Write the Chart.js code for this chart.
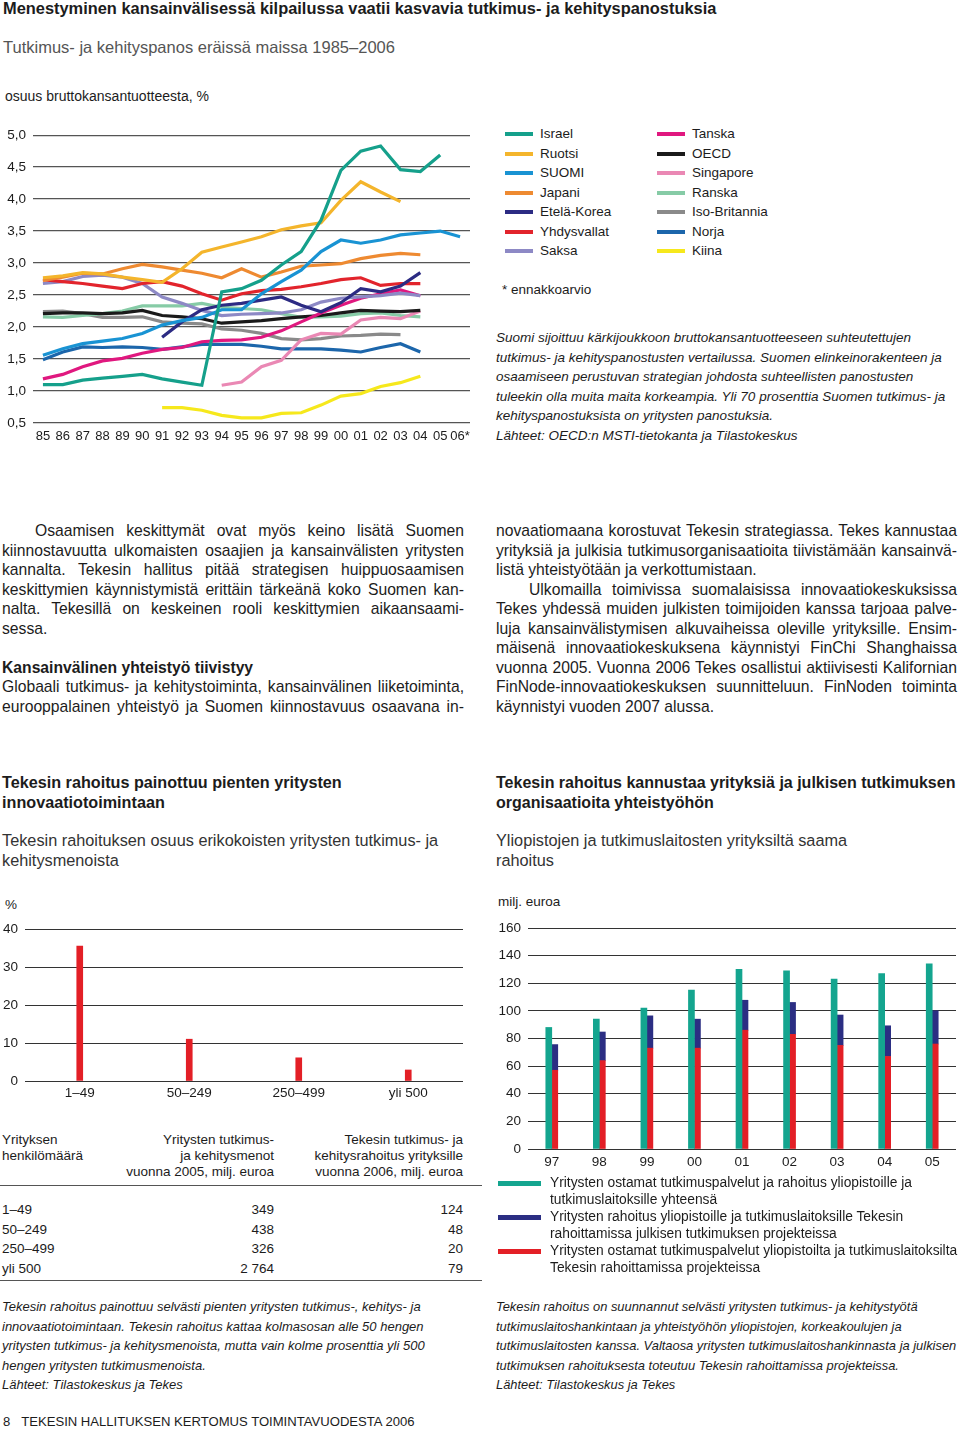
<!DOCTYPE html>
<html>
<head>
<meta charset="utf-8">
<script src="https://cdn.jsdelivr.net/npm/chart.js@4.4.1/dist/chart.umd.min.js"></script>
<style>
  body { margin: 0; width: 960px; height: 1429px; position: relative; background: #fff;
         font-family: "Liberation Sans", Arial, sans-serif; color: #1c1c1c; overflow: hidden; }
  .a { position: absolute; white-space: nowrap; }
  .sm { font-size: 13.5px; }
  .it { font-style: italic; }
  .body { font-size: 15.7px; line-height: 19.5px; }
  .j { text-align: justify; text-align-last: justify; white-space: nowrap; }
  .l { text-align: left; }
  .sw { position: absolute; height: 4px; }
  canvas { position: absolute; }
  .rule { position: absolute; height: 1px; background: #555; }
</style>
</head>
<body>

<div class="a" style="left:3px;top:-1px;font-size:16.4px;font-weight:bold;line-height:18px;">Menestyminen kansainvälisessä kilpailussa vaatii kasvavia tutkimus- ja kehityspanostuksia</div>
<div class="a" style="left:3px;top:37px;font-size:16.5px;line-height:20px;color:#555;">Tutkimus- ja kehityspanos eräissä maissa 1985–2006</div>
<div class="a" style="left:5px;top:88px;font-size:14px;line-height:16px;">osuus bruttokansantuotteesta, %</div>

<div style="position:absolute;left:0;top:120px;width:480px;height:330px;"><canvas id="rdChart"></canvas></div>

<div id="legend1"></div>
<div class="a sm" style="left:502px;top:282px;line-height:16px;">* ennakkoarvio</div>

<div class="a sm it" style="left:496px;top:328.25px;line-height:19.5px;">
Suomi sijoittuu kärkijoukkoon bruttokansantuotteeseen suhteutettujen<br>
tutkimus- ja kehityspanostusten vertailussa. Suomen elinkeinorakenteen ja<br>
osaamiseen perustuvan strategian johdosta suhteellisten panostusten<br>
tuleekin olla muita maita korkeampia. Yli 70 prosenttia Suomen tutkimus- ja<br>
kehityspanostuksista on yritysten panostuksia.<br>
Lähteet: OECD:n MSTI-tietokanta ja Tilastokeskus</div>

<!-- body text, left column -->
<div class="a body" style="left:2px;top:521.25px;width:462px;white-space:normal;">
  <div class="j" style="padding-left:33px;">Osaamisen keskittymät ovat myös keino lisätä Suomen</div>
  <div class="j">kiinnostavuutta ulkomaisten osaajien ja kansainvälisten yritysten</div>
  <div class="j">kannalta. Tekesin hallitus pitää strategisen huippuosaamisen</div>
  <div class="j">keskittymien käynnistymistä erittäin tärkeänä koko Suomen kan-</div>
  <div class="j">nalta. Tekesillä on keskeinen rooli keskittymien aikaansaami-</div>
  <div class="l">sessa.</div>
  <div class="l">&nbsp;</div>
  <div class="l" style="font-weight:bold;">Kansainvälinen yhteistyö tiivistyy</div>
  <div class="j">Globaali tutkimus- ja kehitystoiminta, kansainvälinen liiketoiminta,</div>
  <div class="j">eurooppalainen yhteistyö ja Suomen kiinnostavuus osaavana in-</div>
</div>

<!-- body text, right column -->
<div class="a body" style="left:496px;top:521.25px;width:461px;white-space:normal;">
  <div class="j">novaatiomaana korostuvat Tekesin strategiassa. Tekes kannustaa</div>
  <div class="j">yrityksiä ja julkisia tutkimusorganisaatioita tiivistämään kansainvä-</div>
  <div class="l">listä yhteistyötään ja verkottumistaan.</div>
  <div class="j" style="padding-left:33px;">Ulkomailla toimivissa suomalaisissa innovaatiokeskuksissa</div>
  <div class="j">Tekes yhdessä muiden julkisten toimijoiden kanssa tarjoaa palve-</div>
  <div class="j">luja kansainvälistymisen alkuvaiheissa oleville yrityksille. Ensim-</div>
  <div class="j">mäisenä innovaatiokeskuksena käynnistyi FinChi Shanghaissa</div>
  <div class="j">vuonna 2005. Vuonna 2006 Tekes osallistui aktiivisesti Kalifornian</div>
  <div class="j">FinNode-innovaatiokeskuksen suunnitteluun. FinNoden toiminta</div>
  <div class="l">käynnistyi vuoden 2007 alussa.</div>
</div>

<div class="a" style="left:2px;top:773.25px;font-size:16.2px;font-weight:bold;line-height:19.5px;">Tekesin rahoitus painottuu pienten yritysten<br>innovaatiotoimintaan</div>
<div class="a" style="left:496px;top:773.25px;font-size:16px;font-weight:bold;line-height:19.5px;">Tekesin rahoitus kannustaa yrityksiä ja julkisen tutkimuksen<br>organisaatioita yhteistyöhön</div>
<div class="a" style="left:2px;top:831.25px;font-size:16.3px;line-height:19.5px;color:#333;">Tekesin rahoituksen osuus erikokoisten yritysten tutkimus- ja<br>kehitysmenoista</div>
<div class="a" style="left:496px;top:831.25px;font-size:16.3px;line-height:19.5px;color:#333;">Yliopistojen ja tutkimuslaitosten yrityksiltä saama<br>rahoitus</div>

<div class="a sm" style="left:5px;top:897px;line-height:16px;">%</div>
<div class="a sm" style="left:498px;top:894px;line-height:16px;">milj. euroa</div>

<div style="position:absolute;left:0;top:900px;width:480px;height:210px;"><canvas id="shareChart"></canvas></div>
<div style="position:absolute;left:490px;top:900px;width:470px;height:275px;"><canvas id="fundChart"></canvas></div>

<!-- table -->
<div class="a sm" style="left:2px;top:1132px;line-height:16px;">Yrityksen<br>henkilömäärä</div>
<div class="a sm" style="right:686px;top:1132px;line-height:16px;text-align:right;">Yritysten tutkimus-<br>ja kehitysmenot<br>vuonna 2005, milj. euroa</div>
<div class="a sm" style="right:497px;top:1132px;line-height:16px;text-align:right;">Tekesin tutkimus- ja<br>kehitysrahoitus yrityksille<br>vuonna 2006, milj. euroa</div>
<div class="rule" style="left:0;top:1185px;width:482px;"></div>
<div class="a sm" id="tcol1" style="left:2px;top:1200.25px;line-height:19.5px;"></div>
<div class="a sm" id="tcol2" style="right:686px;top:1200.25px;line-height:19.5px;text-align:right;"></div>
<div class="a sm" id="tcol3" style="right:497px;top:1200.25px;line-height:19.5px;text-align:right;"></div>
<div class="rule" style="left:0;top:1280px;width:482px;"></div>

<div id="legend2"></div>

<div class="a it" style="left:2px;top:1297.25px;font-size:13px;line-height:19.5px;">
Tekesin rahoitus painottuu selvästi pienten yritysten tutkimus-, kehitys- ja<br>
innovaatiotoimintaan. Tekesin rahoitus kattaa kolmasosan alle 50 hengen<br>
yritysten tutkimus- ja kehitysmenoista, mutta vain kolme prosenttia yli 500<br>
hengen yritysten tutkimusmenoista.<br>
Lähteet: Tilastokeskus ja Tekes</div>
<div class="a it" style="left:496px;top:1297.25px;font-size:12.9px;line-height:19.5px;">
Tekesin rahoitus on suunnannut selvästi yritysten tutkimus- ja kehitystyötä<br>
tutkimuslaitoshankintaan ja yhteistyöhön yliopistojen, korkeakoulujen ja<br>
tutkimuslaitosten kanssa. Valtaosa yritysten tutkimuslaitoshankinnasta ja julkisen<br>
tutkimuksen rahoituksesta toteutuu Tekesin rahoittamissa projekteissa.<br>
Lähteet: Tilastokeskus ja Tekes</div>

<div class="a" style="left:3px;top:1414px;font-size:13.1px;line-height:16px;">8&nbsp;&nbsp;&nbsp;TEKESIN HALLITUKSEN KERTOMUS TOIMINTAVUODESTA 2006</div>

<script>
// --- R&D intensity 1985-2006, % of GDP ---
const years = ['85','86','87','88','89','90','91','92','93','94','95','96','97','98','99','00','01','02','03','04','05','06*'];
const yTicks1 = [0.5, 1.0, 1.5, 2.0, 2.5, 3.0, 3.5, 4.0, 4.5, 5.0];

const israel    = [1.10,1.10,1.17,1.20,1.23,1.26,1.19,1.14,1.09,2.55,2.60,2.73,2.97,3.18,3.67,4.45,4.75,4.83,4.46,4.43,4.69,null];
const ruotsi    = [2.77,2.80,2.85,2.83,2.78,2.74,2.70,2.91,3.17,3.25,3.33,3.41,3.52,3.58,3.63,3.98,4.27,4.11,3.96,null,null,null];
const suomi     = [1.56,1.66,1.74,1.78,1.82,1.90,2.03,2.10,2.15,2.27,2.27,2.52,2.71,2.89,3.18,3.36,3.31,3.36,3.44,3.47,3.50,3.41];
const japani    = [2.73,2.78,2.84,2.83,2.91,2.98,2.94,2.89,2.84,2.77,2.91,2.78,2.86,2.95,2.97,2.99,3.07,3.12,3.15,3.13,null,null];
const etelaKorea= [null,null,null,null,null,null,1.84,2.08,2.27,2.34,2.37,2.42,2.47,2.34,2.24,2.38,2.60,2.55,2.64,2.85,null,null];
const usa       = [2.74,2.71,2.68,2.64,2.60,2.68,2.71,2.64,2.52,2.42,2.52,2.57,2.59,2.63,2.68,2.74,2.77,2.65,2.68,2.68,null,null];
const saksa     = [2.68,2.71,2.79,2.81,2.78,2.68,2.47,2.37,2.26,2.18,2.20,2.21,2.22,2.27,2.39,2.45,2.47,2.49,2.53,2.49,null,null];
const tanska    = [1.19,1.26,1.38,1.47,1.51,1.59,1.65,1.68,1.77,1.79,1.80,1.84,1.94,2.08,2.22,2.34,2.45,2.52,2.58,2.49,null,null];
const oecd      = [2.21,2.22,2.22,2.21,2.22,2.26,2.18,2.16,2.13,2.06,2.08,2.10,2.13,2.16,2.18,2.22,2.26,2.25,2.24,2.26,null,null];
const singapore = [null,null,null,null,null,null,null,null,null,1.09,1.14,1.38,1.48,1.80,1.90,1.89,2.11,2.15,2.13,2.25,null,null];
const ranska    = [2.16,2.15,2.18,2.21,2.25,2.33,2.33,2.33,2.37,2.31,2.29,2.27,2.21,2.15,2.16,2.17,2.21,2.22,2.18,2.16,null,null];
const britannia = [2.24,2.25,2.21,2.15,2.15,2.16,2.08,2.06,2.05,1.97,1.95,1.90,1.82,1.80,1.82,1.86,1.87,1.89,1.88,null,null,null];
const norja     = [1.49,1.61,1.69,1.68,1.69,1.68,1.65,1.69,1.73,1.73,1.73,1.70,1.66,1.66,1.66,1.64,1.61,1.68,1.74,1.61,null,null];
const kiina     = [null,null,null,null,null,null,0.74,0.74,0.70,0.62,0.58,0.58,0.65,0.66,0.78,0.92,0.96,1.07,1.13,1.23,null,null];

const countries = ['Israel','Ruotsi','SUOMI','Japani','Etelä-Korea','Yhdysvallat','Saksa',
                   'Tanska','OECD','Singapore','Ranska','Iso-Britannia','Norja','Kiina'];
const countryColors = ['#15a08b','#f4b52c','#1993d3','#ee8a31','#2c2b83','#e2242c','#8d89c5',
                       '#e0187f','#1a1a1a','#ea88b4','#86cba6','#8a8a8a','#1c66ab','#f6e81c'];
const seriesData = [israel, ruotsi, suomi, japani, etelaKorea, usa, saksa,
                    tanska, oecd, singapore, ranska, britannia, norja, kiina];

// --- Tekes share of R&D by company size ---
const sizeClasses = ['1–49', '50–249', '250–499', 'yli 500'];
const companyRd   = ['349', '438', '326', '2 764'];
const tekesFunding = ['124', '48', '20', '79'];
const tekesShare  = [35.5, 11.0, 6.1, 2.9];

// --- funding of universities and research institutes, milj. euroa ---
const fundYears   = ['97','98','99','00','01','02','03','04','05'];
const totalFunding = [88, 94, 102, 115, 130, 129, 123, 127, 134];
const tekesProjectFunding = [18.6, 20.7, 23.4, 21.0, 21.7, 23.1, 22.0, 22.2, 24.1];
const tekesProjectServices = [57, 64, 73, 73, 86, 83, 75, 67, 76];
const fundLabels = [
  'Yritysten ostamat tutkimuspalvelut ja rahoitus yliopistoille ja<br>tutkimuslaitoksille yhteensä',
  'Yritysten rahoitus yliopistoille ja tutkimuslaitoksille Tekesin<br>rahoittamissa julkisen tutkimuksen projekteissa',
  'Yritysten ostamat tutkimuspalvelut yliopistoilta ja tutkimuslaitoksilta<br>Tekesin rahoittamissa projekteissa'
];
const fundColors = ['#14a58f', '#2b2e83', '#e31f26'];

Chart.defaults.font.family = '"Liberation Sans", Arial, sans-serif';
Chart.defaults.font.size = 13.5;
Chart.defaults.color = '#1c1c1c';
Chart.defaults.animation = false;
Chart.defaults.plugins.legend.display = false;
Chart.defaults.plugins.tooltip.enabled = false;

const comma = v => Number(v).toFixed(1).replace('.', ',');

// Line chart
new Chart(document.getElementById('rdChart'), {
  type: 'line',
  data: {
    labels: years,
    datasets: countries.map((name, i) => ({
      label: name,
      data: seriesData[i],
      borderColor: countryColors[i],
      borderWidth: 3.2,
      pointRadius: 0,
      tension: 0,
      fill: false
    }))
  },
  options: {
    responsive: true,
    maintainAspectRatio: false,
    layout: { padding: { top: 15, right: 10, left: 0, bottom: 0 } },
    scales: {
      x: {
        offset: true,
        grid: { display: false, drawTicks: false },
        border: { display: false },
        ticks: { autoSkip: false, maxRotation: 0, padding: 6, font: { size: 13 } },
        afterFit: s => { s.height = 27; }
      },
      y: {
        min: 0.5, max: 5.0,
        afterBuildTicks: s => { s.ticks = yTicks1.map(v => ({ value: v })); },
        grid: { color: '#555', lineWidth: 1.2, drawTicks: false },
        border: { display: false },
        ticks: { padding: 7, callback: comma },
        afterFit: s => { s.width = 33; }
      }
    }
  }
});

// HTML legend for the line chart
const legend1 = document.getElementById('legend1');
countries.forEach((name, i) => {
  const col = i < 7 ? 0 : 1;
  const row = i % 7;
  const cy = 134 + row * 19.5;
  const sx = col ? 657 : 505;
  legend1.insertAdjacentHTML('beforeend',
    `<div class="sw" style="left:${sx}px;top:${cy - 2}px;width:28px;background:${countryColors[i]}"></div>` +
    `<div class="a sm" style="left:${sx + 35}px;top:${cy - 8}px;line-height:16px;">${name}</div>`);
});

// Share bar chart
new Chart(document.getElementById('shareChart'), {
  type: 'bar',
  data: {
    labels: sizeClasses,
    datasets: [{ data: tekesShare, backgroundColor: '#e31f26', barThickness: 6 }]
  },
  options: {
    responsive: true,
    maintainAspectRatio: false,
    layout: { padding: { top: 29, right: 17, left: 0, bottom: 0 } },
    scales: {
      x: {
        grid: { display: false, drawTicks: false },
        border: { display: false },
        ticks: { padding: 4 },
        afterFit: s => { s.height = 29; }
      },
      y: {
        min: 0, max: 40,
        ticks: { stepSize: 10, padding: 7 },
        grid: { color: '#333', lineWidth: 1, drawTicks: false },
        border: { display: false },
        afterFit: s => { s.width = 25; }
      }
    }
  }
});

// table rows
document.getElementById('tcol1').innerHTML = sizeClasses.join('<br>');
document.getElementById('tcol2').innerHTML = companyRd.join('<br>');
document.getElementById('tcol3').innerHTML = tekesFunding.join('<br>');

// Funding bar chart
new Chart(document.getElementById('fundChart'), {
  type: 'bar',
  data: {
    labels: fundYears,
    datasets: [
      { label: 'yhteensä', data: totalFunding, backgroundColor: fundColors[0], stack: 'total', order: 0 },
      { label: 'tekes-projektit', data: tekesProjectServices, backgroundColor: fundColors[2], stack: 'tekes', order: 1 },
      { label: 'julkinen tutkimus', data: tekesProjectFunding, backgroundColor: fundColors[1], stack: 'tekes', order: 2 }
    ]
  },
  options: {
    responsive: true,
    maintainAspectRatio: false,
    datasets: { bar: { barThickness: 6, categoryPercentage: 0.5 } },
    layout: { padding: { top: 28, right: 4, left: 0, bottom: 0 } },
    scales: {
      x: {
        stacked: true,
        grid: { display: false, drawTicks: false },
        border: { display: false },
        ticks: { padding: 5 },
        afterFit: s => { s.height = 26; }
      },
      y: {
        stacked: true,
        min: 0, max: 160,
        ticks: { stepSize: 20, padding: 7 },
        grid: { color: '#333', lineWidth: 1, drawTicks: false },
        border: { display: false },
        afterFit: s => { s.width = 38; }
      }
    }
  }
});

// HTML legend for the funding chart
const legend2 = document.getElementById('legend2');
[1183, 1217, 1251].forEach((cy, i) => {
  legend2.insertAdjacentHTML('beforeend',
    `<div class="sw" style="left:498px;top:${cy - 2.5}px;width:43px;height:5px;background:${fundColors[i]}"></div>` +
    `<div class="a" style="left:550px;top:${cy - 9.5}px;font-size:13.8px;line-height:17px;">${fundLabels[i]}</div>`);
});
</script>
</body>
</html>
